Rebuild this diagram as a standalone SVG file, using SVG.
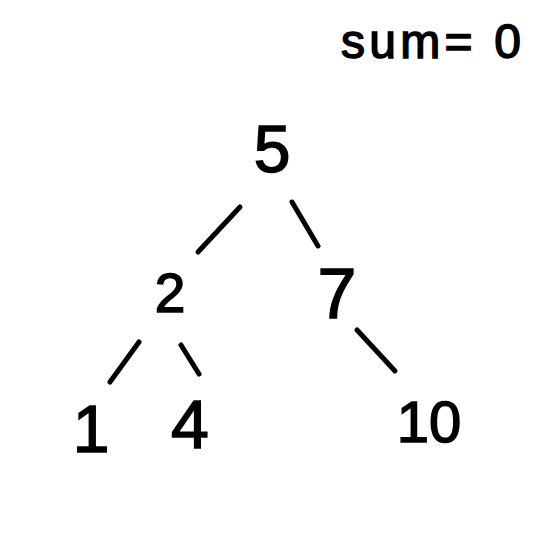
<svg xmlns="http://www.w3.org/2000/svg" width="550" height="550" viewBox="0 0 550 550">
<style>
.t{font-family:"Liberation Sans","DejaVu Sans",sans-serif;fill:#000;stroke:#000;stroke-width:1.5;text-anchor:middle}
.e{stroke:#000;stroke-width:5;stroke-linecap:round;fill:none}
</style>
<rect width="550" height="550" fill="#fff"/>
<g id="label-sum"><text class="t" x="431" y="58" font-size="48" textLength="180" lengthAdjust="spacing">sum= 0</text></g>
<g id="node-5"><text class="t" x="272" y="172" font-size="66">5</text></g>
<g id="node-2"><text class="t" x="170" y="312" font-size="55">2</text></g>
<g id="node-7"><text class="t" x="337" y="318" font-size="70">7</text></g>
<g id="node-1"><text class="t" x="91" y="452" font-size="66">1</text></g>
<g id="node-4"><text class="t" x="190" y="448" font-size="68">4</text></g>
<g id="node-10"><text class="t" x="429" y="442" font-size="58">10</text></g>
<g id="edges">
<line class="e" x1="198" y1="252" x2="240" y2="207"/>
<line class="e" x1="292" y1="202" x2="318" y2="246"/>
<line class="e" x1="110" y1="382" x2="139" y2="342"/>
<line class="e" x1="181" y1="345" x2="199" y2="374"/>
<line class="e" x1="357" y1="330" x2="395" y2="371"/>
</g>
</svg>
